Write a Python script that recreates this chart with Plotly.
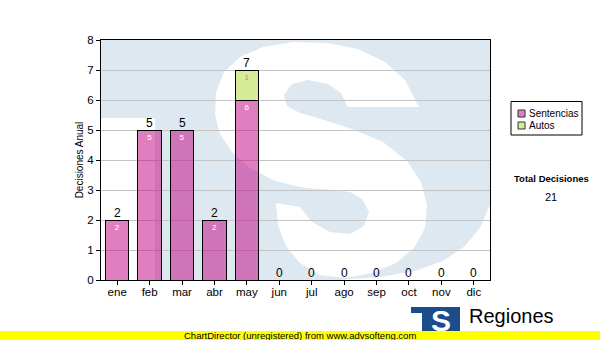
import plotly.graph_objects as go

# ---------------- data ----------------
months = ["ene", "feb", "mar", "abr", "may", "jun", "jul", "ago", "sep", "oct", "nov", "dic"]
sentencias = [2, 5, 5, 2, 6, 0, 0, 0, 0, 0, 0, 0]
autos = [0, 0, 0, 0, 1, 0, 0, 0, 0, 0, 0, 0]
series_names = ["Sentencias", "Autos"]
y_title = "Decisiones Anual"
total_title = "Total Decisiones"
footer_text = "ChartDirector (unregistered) from www.advsofteng.com"
logo_text = "Regiones"

totals = [s + a for s, a in zip(sentencias, autos)]
grand_total = sum(totals)

# ---------------- styling ----------------
FONT = "Liberation Sans, Arial, sans-serif"
PINK = "rgba(192,0,128,0.5)"
GREEN = "rgba(175,215,45,0.5)"
WM = "#dee8f1"

W, H = 600, 340
X0, X1, Y0, Y1 = 101, 490, 40, 280  # plot area in pixels


def pp(x, y):
    return ((x - X0) / (X1 - X0), (Y1 - y) / (Y1 - Y0))


def path(points):
    s = []
    for i, (x, y) in enumerate(points):
        a, b = pp(x, y)
        s.append(("M" if i == 0 else "L") + f"{a:.5f},{b:.5f}")
    return " ".join(s) + " Z"


def rect(x0, y0, x1, y1, fill, line=None, layer="above", lw=1):
    a0, b0 = pp(x0, y1)
    a1, b1 = pp(x1, y0)
    return dict(type="rect", xref="paper", yref="paper", x0=a0, y0=b0, x1=a1, y1=b1,
                fillcolor=fill, line=dict(color=line or "rgba(0,0,0,0)", width=lw if line else 0),
                layer=layer)


# watermark: pale square with a white S
wm_base = [(101, 40), (490, 40), (490, 205), (480, 228), (465, 246), (443, 261), (415, 271),
           (380, 277), (340, 280), (155, 280), (155, 118), (101, 118)]
wm_s = [(335, 190), (305, 188), (275, 181), (250, 168), (232, 152), (220, 134), (215, 115),
        (216, 93), (224, 72), (240, 57), (263, 47), (293, 42), (327, 43), (358, 49), (385, 62),
        (405, 80), (419, 107), (348, 107), (341, 93), (328, 84), (308, 80), (292, 84), (284, 95),
        (287, 106), (300, 113), (321, 119), (352, 129), (383, 142), (407, 161), (421, 182),
        (427, 205), (425, 228), (414, 248), (396, 263), (372, 273), (345, 278), (320, 275),
        (300, 263), (286, 246), (278, 225), (276, 203), (300, 207), (312, 222), (330, 232),
        (350, 234), (364, 226), (369, 212), (362, 199), (350, 192)]

shapes = [
    dict(type="path", xref="paper", yref="paper", path=path(wm_base), fillcolor=WM,
         line=dict(width=0), layer="below"),
    dict(type="path", xref="paper", yref="paper", path=path(wm_s), fillcolor="white",
         line=dict(width=0), layer="below"),
    # legend box
    rect(511, 101.5, 582, 135, "white", "black"),
    rect(518, 110, 525, 117, "rgb(223,128,191)", "#333"),
    rect(518, 122, 525, 129, "rgb(215,235,150)", "#333"),
    # logo
    rect(422, 307, 460, 332, "#1b4d8c"),
    rect(411, 307, 423, 313, "#1b4d8c"),
    # footer bar
    rect(0, 331, 600, 340, "#ffff00"),
]

fig = go.Figure()
fig.add_trace(go.Bar(
    x=months, y=sentencias, name=series_names[0],
    marker=dict(color=PINK, line=dict(color="black", width=1)),
    text=[str(v) if v else "" for v in sentencias], textposition="inside",
    insidetextanchor="end", textangle=0,
    textfont=dict(color="white", size=8, family=FONT),
))
fig.add_trace(go.Bar(
    x=months, y=[v if v else None for v in autos], name=series_names[1],
    marker=dict(color=GREEN, line=dict(color="black", width=1)),
    text=[str(v) if v else "" for v in autos], textposition="inside",
    insidetextanchor="end", textangle=0,
    textfont=dict(color="#9a9a8a", size=8, family=FONT),
))

annotations = []
for m, t in zip(months, totals):
    annotations.append(dict(x=m, y=t, xref="x", yref="y", text=str(t), showarrow=False,
                            yanchor="bottom", yshift=-2, font=dict(size=12, color="black", family=FONT)))


def txt(x, y, text, size, xanchor="center", color="black", bold=False):
    a, b = pp(x, y)
    return dict(x=a, y=b, xref="paper", yref="paper", text=f"<b>{text}</b>" if bold else text,
                showarrow=False, xanchor=xanchor, yanchor="middle",
                font=dict(size=size, color=color, family=FONT))


annotations += [
    txt(527, 113.5, series_names[0], 10, "left"),
    txt(527, 125.5, series_names[1], 10, "left"),
    txt(551, 178, total_title, 9.5, bold=True),
    txt(551, 197, str(grand_total), 11),
    txt(441, 320, "S", 30, color="white", bold=True),
    txt(467, 316, logo_text, 20, "left"),
    txt(300, 335.5, footer_text, 9.5),
]

fig.update_layout(
    width=W, height=H, autosize=False,
    margin=dict(l=X0, r=W - X1, t=Y0, b=H - Y1, pad=0),
    paper_bgcolor="white", plot_bgcolor="white",
    barmode="stack", bargap=0.28, showlegend=False,
    font=dict(family=FONT, size=11, color="black"),
    shapes=shapes, annotations=annotations,
    uniformtext=dict(mode=False),
)
fig.update_xaxes(type="category", categoryorder="array", categoryarray=months,
                 showline=True, linecolor="black", linewidth=1, mirror=True,
                 ticks="outside", ticklen=4, tickcolor="black", showgrid=False,
                 ticklabelstandoff=-3,
                 tickfont=dict(size=11.5, family=FONT, color="black"))
fig.update_yaxes(range=[0, 8], dtick=1, tick0=0, showgrid=True, gridcolor="#c4c4c4", gridwidth=1,
                 showline=True, linecolor="black", linewidth=1, mirror=True, zeroline=False,
                 ticks="outside", ticklen=4, tickcolor="black",
                 tickfont=dict(size=11.5, family=FONT, color="black"),
                 title=dict(text=y_title, font=dict(size=10, family=FONT), standoff=1))

fig.write_html("out.html")
